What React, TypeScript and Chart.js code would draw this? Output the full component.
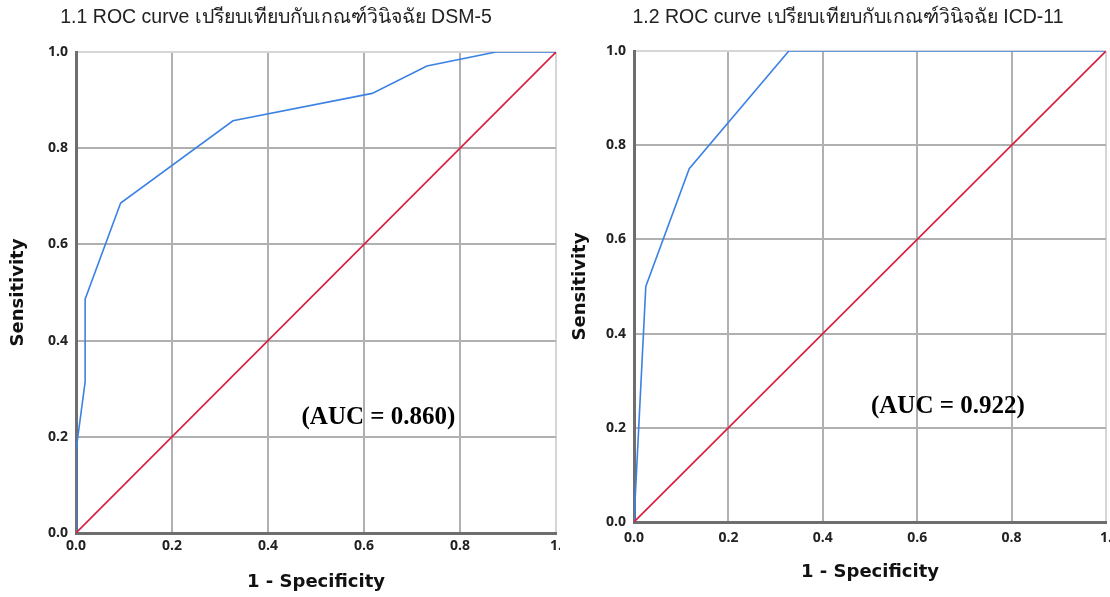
import React, { useEffect, useRef } from "react";
import { Chart, registerables } from "chart.js";

Chart.register(...registerables);

// ---------- data ----------
const titleDSM = "1.1 ROC curve เปรียบเทียบกับเกณฑ์วินิจฉัย DSM-5";
const titleICD = "1.2 ROC curve เปรียบเทียบกับเกณฑ์วินิจฉัย ICD-11";
const xAxisTitle = "1 - Specificity";
const yAxisTitle = "Sensitivity";

const fprDSM = [0, 0, 0.019, 0.019, 0.093, 0.327, 0.617, 0.731, 0.875, 1];
const tprDSM = [0, 0.171, 0.314, 0.486, 0.686, 0.857, 0.914, 0.971, 1, 1];
const aucDSM = "(AUC = 0.860)";

const fprICD = [0, 0.025, 0.117, 0.328, 1];
const tprICD = [0, 0.5, 0.75, 1, 1];
const aucICD = "(AUC = 0.922)";

const refX = [0, 1];
const refY = [0, 1];

const tickValues = [0, 0.2, 0.4, 0.6, 0.8, 1.0];

// ---------- chart builder ----------
type Panel = {
  title: string;
  titleX: number;
  fpr: number[];
  tpr: number[];
  auc: string;
  aucX: number;
  aucY: number;
  padTop: number;
  yWidth: number;
  xHeight: number;
  yTitlePad: number;
  xTitlePad: number;
  xTickPad: number;
};

const panelPlugin = {
  id: "panelText",
  afterDraw(chart: any, _args: any, opts: any) {
    const ctx = chart.ctx;
    ctx.save();
    ctx.fillStyle = "#222222";
    ctx.font = '19.5px "Liberation Sans", Arial, sans-serif';
    ctx.textAlign = "center";
    ctx.textBaseline = "middle";
    ctx.fillText(opts.title, opts.titleX, 18);
    const xs = chart.scales.x;
    const ys = chart.scales.y;
    ctx.fillStyle = "#000000";
    ctx.font = 'bold 25px "Liberation Serif", "Times New Roman", serif';
    ctx.fillText(opts.auc, xs.getPixelForValue(opts.aucX), ys.getPixelForValue(opts.aucY));
    ctx.restore();
  },
};

function makeConfig(p: Panel): any {
  const gridColor = (c: any) =>
    c.tick && Math.abs(c.tick.value - 1) < 1e-9 ? "#d6d6d6" : "#b0b0b0";
  const tickFont = { family: '"Open Sans", "DejaVu Sans", sans-serif', size: 14, weight: "bold" };
  const titleFont = { family: '"DejaVu Sans", sans-serif', size: 18, weight: "bold" };
  return {
    type: "scatter",
    data: {
      datasets: [
        {
          data: refX.map((x, i) => ({ x, y: refY[i] })),
          showLine: true,
          borderColor: "#d81e3c",
          borderWidth: 1.6,
          pointRadius: 0,
        },
        {
          data: p.fpr.map((x, i) => ({ x, y: p.tpr[i] })),
          showLine: true,
          borderColor: "#3c82e4",
          borderWidth: 1.6,
          pointRadius: 0,
        },
      ],
    },
    options: {
      responsive: false,
      animation: false,
      events: [],
      layout: { padding: { left: 0, right: 4, top: p.padTop, bottom: 0 } },
      plugins: {
        legend: { display: false },
        tooltip: { enabled: false },
        title: { display: false },
        panelText: { title: p.title, titleX: p.titleX, auc: p.auc, aucX: p.aucX, aucY: p.aucY },
      },
      scales: {
        x: {
          type: "linear",
          min: 0,
          max: 1,
          afterBuildTicks: (s: any) => {
            s.ticks = tickValues.map((v) => ({ value: v }));
          },
          afterFit: (s: any) => {
            s.height = p.xHeight;
            s.paddingLeft = 0;
            s.paddingRight = 0;
          },
          ticks: {
            padding: p.xTickPad,
            maxRotation: 0,
            color: "#222",
            font: tickFont,
            callback: (v: number) => (Math.abs(v - 1) < 1e-9 ? "1." : v.toFixed(1)),
          },
          grid: { color: gridColor, lineWidth: 2, drawTicks: false },
          border: { color: "#6e6e6e", width: 3 },
          title: {
            display: true,
            text: xAxisTitle,
            color: "#111",
            font: titleFont,
            padding: { top: 0, bottom: p.xTitlePad },
          },
        },
        y: {
          type: "linear",
          min: 0,
          max: 1,
          afterBuildTicks: (s: any) => {
            s.ticks = tickValues.map((v) => ({ value: v }));
          },
          afterFit: (s: any) => {
            s.width = p.yWidth;
            s.paddingTop = 0;
            s.paddingBottom = 0;
          },
          ticks: {
            padding: 8,
            color: "#222",
            font: tickFont,
            callback: (v: number) => v.toFixed(1),
          },
          grid: { color: gridColor, lineWidth: 2, drawTicks: false },
          border: { color: "#6e6e6e", width: 3 },
          title: {
            display: true,
            text: yAxisTitle,
            color: "#111",
            font: titleFont,
            padding: { top: p.yTitlePad, bottom: 0 },
          },
        },
      },
    },
    plugins: [panelPlugin],
  };
}

function RocPanel({ panel, left, width }: { panel: Panel; left: number; width: number }) {
  const ref = useRef<HTMLCanvasElement | null>(null);
  useEffect(() => {
    if (!ref.current) return;
    const chart = new Chart(ref.current, makeConfig(panel));
    return () => chart.destroy();
  }, []);
  return (
    <canvas
      ref={ref}
      width={width}
      height={597}
      style={{ position: "absolute", left, top: 0, width, height: 597 }}
    />
  );
}

const panelDSM: Panel = {
  title: titleDSM,
  titleX: 276,
  fpr: fprDSM,
  tpr: tprDSM,
  auc: aucDSM,
  aucX: 0.63,
  aucY: 0.24,
  padTop: 52,
  yWidth: 76,
  xHeight: 64,
  yTitlePad: 7.2,
  xTitlePad: 4.2,
  xTickPad: 5,
};

const panelICD: Panel = {
  title: titleICD,
  titleX: 288,
  fpr: fprICD,
  tpr: tprICD,
  auc: aucICD,
  aucX: 0.665,
  aucY: 0.245,
  padTop: 51,
  yWidth: 74,
  xHeight: 75,
  yTitlePad: 9.2,
  xTitlePad: 14.2,
  xTickPad: 8,
};

export default function App() {
  return (
    <div
      style={{
        position: "fixed",
        left: 0,
        top: 0,
        width: 1110,
        height: 597,
        background: "#ffffff",
        overflow: "hidden",
      }}
    >
      <RocPanel panel={panelDSM} left={0} width={560} />
      <RocPanel panel={panelICD} left={560} width={550} />
    </div>
  );
}
